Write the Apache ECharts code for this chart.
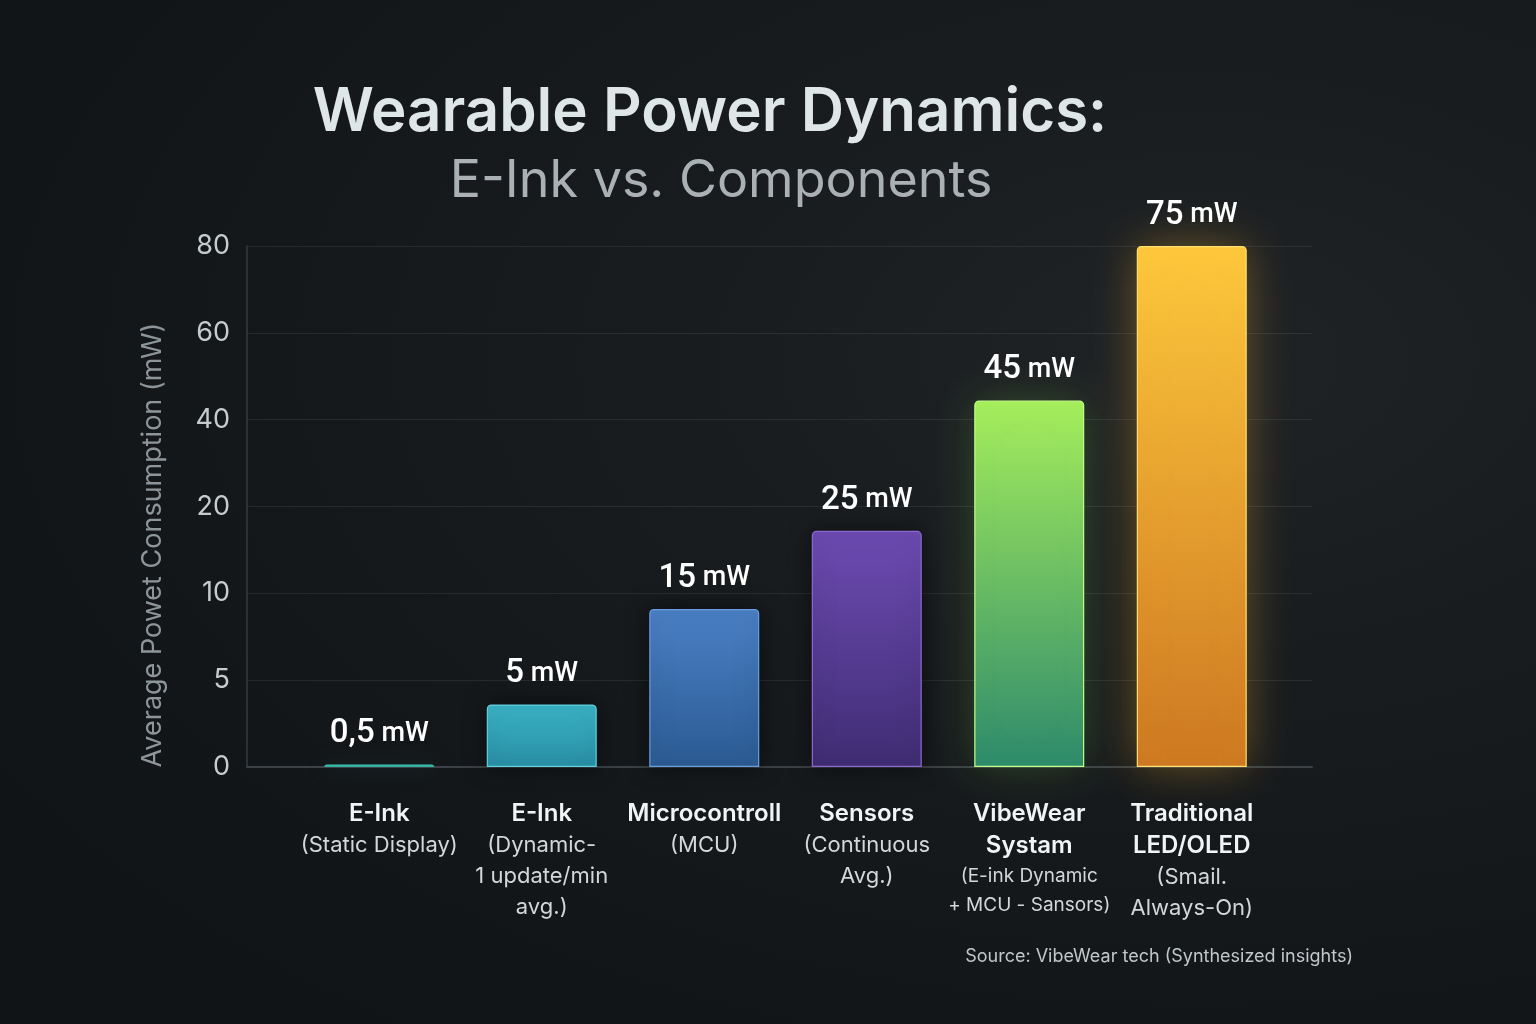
<!DOCTYPE html>
<html><head><meta charset="utf-8">
<script src="https://cdn.jsdelivr.net/npm/echarts@6.0.0/dist/echarts.min.js"></script>
<style>
html,body{margin:0;padding:0;width:1536px;height:1024px;overflow:hidden;background:#14171a;}
#c{width:1536px;height:1024px;background:radial-gradient(ellipse 90% 80% at 78% 35%, #202326 0%, #181b1e 45%, #111417 100%);}
</style></head><body><div id="c"></div>
<script>
const TITLE = 'Wearable Power Dynamics:';
const SUBTITLE = 'E-Ink vs. Components';
const Y_NAME = 'Average Powet Consumption (mW)';
const SOURCE = 'Source: VibeWear tech (Synthesized insights)';
const Y_TICK_LABELS = ['0', '5', '10', '20', '40', '60', '80'];
const CATEGORY_LINES = [
  ['E-Ink', '(Static Display)'],
  ['E-Ink', '(Dynamic-', '1 update/min', 'avg.)'],
  ['Microcontroll', '(MCU)'],
  ['Sensors', '(Continuous', 'Avg.)'],
  ['VibeWear', 'Systam', '(E-ink Dynamic', '+ MCU - Sansors)'],
  ['Traditional', 'LED/OLED', '(Smail.', 'Always-On)']
];
const CATEGORY_BOLD_COUNT = [1, 1, 1, 1, 2, 2];
const CATEGORY_SMALL_DETAIL = [false, false, false, false, true, false];
const VALUE_LABELS = ['0,5', '5', '15', '25', '45', '75'];
const VALUE_UNIT = 'mW';
// bar heights, in units of the evenly spaced tick rows
const BAR_LEVELS = [0.03, 0.72, 1.82, 2.72, 4.22, 6.0];
const BAR_TOP_COLORS = ['#3cc7b4', '#3bb3c6', '#4a80c6', '#6d4bb2', '#a6ee5c', '#fdc83c'];
const BAR_BOTTOM_COLORS = ['#2fa898', '#2990a6', '#2c5b93', '#402d74', '#2e8a6c', '#cd7822'];
const BAR_EDGE_COLORS = ['#5fe0cc', '#5fd0de', '#6a9ee0', '#8a6ad0', '#c2ff86', '#ffe070'];
const BAR_GLOW_COLORS = ['rgba(60,200,180,0.25)', 'rgba(0,0,0,0.55)', 'rgba(0,0,0,0.55)', 'rgba(0,0,0,0.55)', 'rgba(140,230,90,0.22)', 'rgba(250,185,50,0.35)'];

const chart = echarts.init(document.getElementById('c'), null, {renderer: 'canvas'});
const FONT = 'Inter, "Noto Sans", sans-serif';

function catLabel(value, index) {
  const lines = CATEGORY_LINES[index];
  const nb = CATEGORY_BOLD_COUNT[index];
  return lines.map((t, i) => {
    if (i < nb) return '{b|' + t + '}';
    return (CATEGORY_SMALL_DETAIL[index] ? '{s|' : '{n|') + t + '}';
  }).join('\n');
}

const option = {
  animation: false,
  grid: [
    {left: 247, right: 224, top: 246, bottom: 257},
    {left: 298, right: 263, top: 246, bottom: 257}
  ],
  xAxis: [
    {gridIndex: 0, type: 'category', data: ['a'], axisLabel: {show: false}, axisTick: {show: false},
     axisLine: {show: true, lineStyle: {color: '#3c4145', width: 2}}, splitLine: {show: false}},
    {gridIndex: 1, type: 'category', data: CATEGORY_LINES.map(l => l[0]),
     axisLine: {show: false}, axisTick: {show: false},
     axisLabel: {interval: 0, hideOverlap: false, margin: 31, formatter: catLabel,
       rich: {
         b: {fontFamily: FONT, fontSize: 24, fontWeight: 600, color: '#f1f3f5', lineHeight: 32, align: 'center'},
         n: {fontFamily: FONT, fontSize: 22, fontWeight: 400, color: '#d3d7da', lineHeight: 31, align: 'center'},
         s: {fontFamily: FONT, fontSize: 19, fontWeight: 400, color: '#d3d7da', lineHeight: 29, align: 'center'}
       }}}
  ],
  yAxis: [
    {gridIndex: 0, type: 'value', min: 0, max: 6, interval: 1,
     axisLine: {show: true, lineStyle: {color: '#363b3f', width: 1.5}}, axisTick: {show: false},
     axisLabel: {margin: 17, fontFamily: FONT, fontSize: 27, color: '#c6cbce',
       formatter: (v) => Y_TICK_LABELS[Math.round(v)]},
     splitLine: {show: true, lineStyle: {color: 'rgba(255,255,255,0.075)', width: 1}}},
    {gridIndex: 1, type: 'value', min: 0, max: 6, interval: 1, show: false,
     splitLine: {show: false}}
  ],
  series: [{
    type: 'bar', xAxisIndex: 1, yAxisIndex: 1, barWidth: 110, clip: false,
    data: BAR_LEVELS.map((v, i) => ({
      value: v,
      itemStyle: {
        color: new echarts.graphic.LinearGradient(0, 0, 0, 1, [
          {offset: 0, color: BAR_TOP_COLORS[i]}, {offset: 1, color: BAR_BOTTOM_COLORS[i]}]),
        borderColor: BAR_EDGE_COLORS[i], borderWidth: i === 0 ? 0 : 1.2,
        borderRadius: [4, 4, 0, 0],
        shadowBlur: i >= 4 ? 45 : 22, shadowColor: BAR_GLOW_COLORS[i], shadowOffsetY: 0
      }
    })),
    label: {show: true, position: 'top', distance: 14,
      formatter: (p) => '{n|' + VALUE_LABELS[p.dataIndex] + '}{u| ' + VALUE_UNIT + '}',
      rich: {
        n: {fontFamily: 'Roboto, ' + FONT, fontSize: 33, fontWeight: 500, color: '#ffffff'},
        u: {fontFamily: 'Roboto, ' + FONT, fontSize: 27, fontWeight: 500, color: '#ffffff'}
      }}
  }],
  graphic: [
    {type: 'text', silent: true,
     style: {text: TITLE, x: 710, y: 113, fontFamily: FONT, fontSize: 60, fontWeight: 600, fill: '#dfe6e8',
       textAlign: 'center', textVerticalAlign: 'middle'}},
    {type: 'text', silent: true,
     style: {text: SUBTITLE, x: 721, y: 181, fontFamily: FONT, fontSize: 52, fontWeight: 400, fill: '#a9b1b4',
       textAlign: 'center', textVerticalAlign: 'middle'}},
    {type: 'text', silent: true, x: 153, y: 545, rotation: Math.PI / 2,
     style: {text: Y_NAME, fontFamily: FONT, fontSize: 27, fill: '#8c959a', textAlign: 'center', textVerticalAlign: 'middle'}},
    {type: 'text', silent: true,
     style: {text: SOURCE, x: 1353, y: 957, fontFamily: FONT, fontSize: 18, fill: '#c2c7ca', textAlign: 'right', textVerticalAlign: 'middle'}}
  ]
};
chart.setOption(option);
</script></body></html>
